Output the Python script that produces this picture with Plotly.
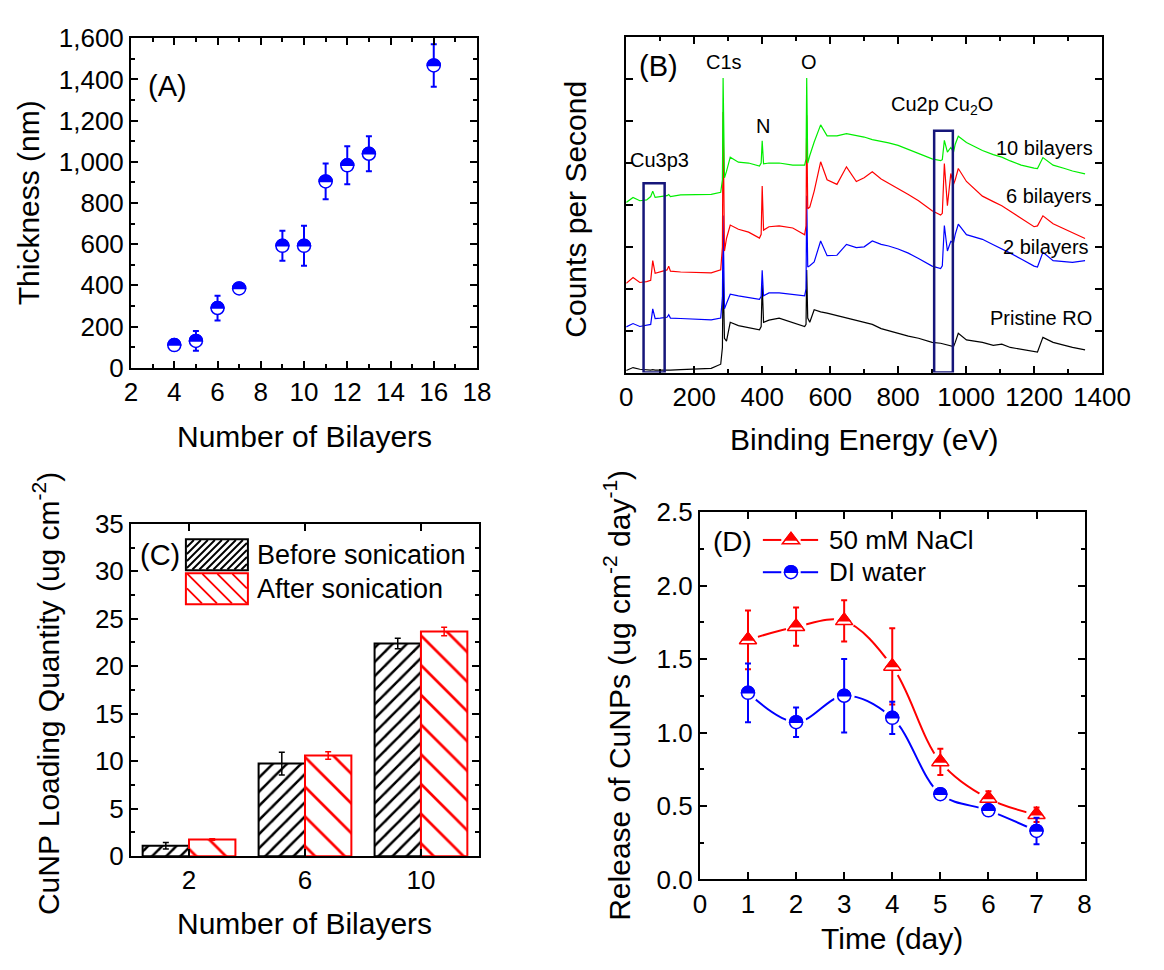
import plotly.graph_objects as go

W, H = 1164, 970
FONT = "Liberation Sans, Arial, sans-serif"

# ---------------- data ----------------
# (A) film thickness
bilayers_a = [4, 5, 6, 7, 9, 10, 11, 12, 13, 16]
thickness = [110, 130, 290, 385, 592, 592, 905, 983, 1039, 1468]
thickness_err = [25, 48, 60, 20, 73, 97, 87, 92, 85, 103]

# (B) XPS survey spectra (intensity in arbitrary units)
energy = [0, 20, 40, 60, 72, 78, 85, 100, 120, 125, 130, 160, 200, 250, 278, 283, 285, 289, 295, 306,
          330, 360, 392, 397, 400, 404, 420, 450, 490, 525, 529, 531, 534, 540, 553, 572, 591, 620, 648, 677,
          700, 724, 750, 772, 800, 830, 860, 900, 925, 930, 936, 945, 955, 963, 968, 977, 1001, 1048, 1080, 1105,
          1130, 1162, 1200, 1210, 1226, 1256, 1290, 1313, 1350]
cps_pristine = [0.05, 0.12, 0.08, 0.06, 0.06, 0.07, 0.06, 0.06, 0.05, 0.06,
                0.06, 0.07, 0.08, 0.10, 0.20, 0.60, 2.44, 0.82, 0.75, 1.20,
                1.12, 1.08, 1.02, 1.10, 2.10, 1.20, 1.25, 1.30, 1.20, 1.10,
                1.15, 2.45, 1.30, 1.20, 1.50, 1.45, 1.42, 1.36, 1.30, 1.25,
                1.20, 1.15, 1.05, 1.00, 0.95, 0.87, 0.82, 0.72, 0.70, 0.69,
                0.68, 0.66, 0.64, 0.62, 0.72, 0.94, 0.78, 0.72, 0.65, 0.68,
                0.60, 0.56, 0.50, 0.49, 0.84, 0.72, 0.65, 0.60, 0.54]
cps_2bl = [1.09, 1.17, 1.10, 1.13, 1.15, 1.52, 1.29, 1.30, 1.32, 1.38,
           1.30, 1.29, 1.27, 1.26, 1.30, 1.80, 3.75, 1.52, 1.65, 1.87,
           1.83, 1.80, 1.75, 1.82, 2.44, 1.83, 1.90, 1.90, 1.87, 1.83,
           2.00, 4.22, 2.52, 2.55, 2.64, 3.14, 2.79, 2.80, 3.06, 2.98,
           3.00, 3.14, 3.06, 3.02, 2.95, 2.85, 2.72, 2.54, 2.48, 2.55,
           3.51, 2.90, 3.13, 3.10, 3.30, 3.54, 3.29, 3.18, 3.05, 2.94,
           2.85, 2.71, 2.54, 2.52, 2.87, 2.67, 2.65, 2.63, 2.67]
cps_6bl = [2.13, 2.27, 2.15, 2.17, 2.20, 2.67, 2.37, 2.40, 2.45, 2.54,
           2.42, 2.40, 2.39, 2.38, 2.45, 3.00, 6.22, 2.90, 3.20, 3.52,
           3.42, 3.35, 3.21, 3.30, 4.45, 3.40, 3.48, 3.50, 3.45, 3.29,
           3.50, 6.14, 3.91, 3.95, 4.33, 5.03, 4.60, 4.49, 4.91, 4.56,
           4.65, 4.79, 4.62, 4.52, 4.40, 4.25, 4.10, 3.86, 3.76, 3.80,
           4.99, 3.98, 4.75, 4.49, 4.60, 4.87, 4.56, 4.21, 4.08, 3.98,
           3.85, 3.68, 3.48, 3.50, 3.74, 3.55, 3.42, 3.33, 3.20]
cps_10bl = [4.06, 4.18, 4.10, 4.12, 4.20, 4.33, 4.18, 4.20, 4.22, 4.25,
            4.20, 4.24, 4.25, 4.25, 4.30, 4.60, 7.03, 4.65, 4.80, 5.14,
            5.02, 5.00, 4.93, 5.00, 5.53, 4.98, 5.00, 5.00, 4.95, 4.95,
            5.10, 7.03, 5.00, 5.18, 5.50, 5.91, 5.65, 5.65, 5.70, 5.66,
            5.62, 5.56, 5.52, 5.48, 5.42, 5.32, 5.22, 5.10, 5.06, 5.08,
            5.54, 5.26, 5.37, 5.26, 5.45, 5.64, 5.49, 5.30, 5.20, 5.14,
            5.05, 4.95, 4.88, 4.87, 5.13, 4.95, 4.87, 4.81, 4.74]
cu3p3_window = [51, 113, 4.52]     # eV from, eV to, box top
cu2p_window = [906, 961, 5.77]

# (C) CuNP loading
bar_groups = [2, 6, 10]
loading_before = [1.1, 9.75, 22.4]
loading_before_err = [0.35, 1.2, 0.55]
loading_after = [1.75, 10.6, 23.65]
loading_after_err = [0.08, 0.4, 0.45]

# (D) release of CuNPs
days = [1, 2, 3, 4, 5, 6, 7]
release_nacl = [1.63, 1.72, 1.76, 1.45, 0.80, 0.55, 0.44]
release_nacl_err = [0.20, 0.13, 0.14, 0.26, 0.09, 0.05, 0.05]
release_di = [1.27, 1.07, 1.25, 1.10, 0.58, 0.47, 0.33]
release_di_err = [0.20, 0.10, 0.25, 0.11, 0.03, 0.03, 0.09]

# ---------------- helpers ----------------
def px(x):
    return x / W


def py(y):
    return 1 - y / H


BLUE = "#0000ff"
RED = "#ff0000"
GREEN = "#00ee00"
NAVY = "#16167a"

R_CIRC = 6.5
TRI_SIZE = 15


def half_circle_path(r):
    k = 0.5523 * r
    return (f"M{-r},0 C{-r},{k:.3f} {-k:.3f},{r} 0,{r} "
            f"C{k:.3f},{r} {r},{k:.3f} {r},0 Z")


def half_triangle_path(size):
    r = size / 2
    rt = r * 2 / 3 ** 0.5
    hw = 2 * rt / 3
    return f"M{-hw:.3f},0 L{hw:.3f},0 L0,{r} Z"


def full_triangle_path(size):
    r = size / 2
    rt = r * 2 / 3 ** 0.5
    return f"M{-rt:.3f},{-r / 2} L{rt:.3f},{-r / 2} L0,{r} Z"


def hatch_path(w, h, d, forward=True):
    hw, hh = w / 2, h / 2
    segs = []
    c = -(hw + hh)
    while c <= hw + hh:
        lo = max(-hw, c - hh)
        hi = min(hw, c + hh)
        if hi - lo > 0.5:
            if forward:
                segs.append(f"M{lo:.2f},{lo - c:.2f} L{hi:.2f},{hi - c:.2f}")
            else:
                segs.append(f"M{lo:.2f},{c - lo:.2f} L{hi:.2f},{c - hi:.2f}")
        c += d
    return " ".join(segs)


axis_common = dict(
    showline=True, linecolor="black", linewidth=2, mirror="ticks",
    ticks="inside", ticklen=7, tickwidth=2, tickcolor="black",
    showgrid=False, zeroline=False,
    tickfont=dict(family=FONT, size=26, color="black"),
)


def minor(dt):
    return dict(dtick=dt, ticks="inside", ticklen=4, tickwidth=2,
                tickcolor="black", showgrid=False)


fig = go.Figure()
shapes = []
annotations = []

# ---------------- (A) ----------------
fig.add_trace(go.Scatter(
    x=bilayers_a, y=thickness, mode="markers", xaxis="x", yaxis="y",
    error_y=dict(type="data", array=thickness_err, color=BLUE, thickness=2, width=3),
    marker=dict(symbol="circle", size=2 * R_CIRC, color="white", line=dict(color=BLUE, width=1.5)),
))
for xv, yv in zip(bilayers_a, thickness):
    shapes.append(dict(type="path", xref="x", yref="y", xsizemode="pixel", ysizemode="pixel",
                       xanchor=xv, yanchor=yv, path=half_circle_path(R_CIRC),
                       fillcolor=BLUE, line=dict(color=BLUE, width=1.5), layer="above"))

# ---------------- (B) ----------------
for ys, col in [(cps_pristine, "black"), (cps_2bl, BLUE), (cps_6bl, RED), (cps_10bl, GREEN)]:
    fig.add_trace(go.Scatter(x=energy, y=ys, mode="lines", xaxis="x2", yaxis="y2",
                             line=dict(color=col, width=1.2)))
for x0, x1, top in [cu3p3_window, cu2p_window]:
    shapes.append(dict(type="rect", xref="x2", yref="y2", x0=x0, x1=x1, y0=0, y1=top,
                       line=dict(color=NAVY, width=2.5), fillcolor="rgba(0,0,0,0)", layer="above"))

# ---------------- (C) ----------------
fig.add_trace(go.Bar(
    x=bar_groups, y=loading_before, xaxis="x3", yaxis="y3", name="Before sonication",
    marker=dict(color="white", line=dict(color="black", width=2),
                pattern=dict(shape="/", size=10, solidity=0.25, fgcolor="black", bgcolor="white",
                             fgopacity=1, fillmode="replace")),
    error_y=dict(type="data", array=loading_before_err, color="black", thickness=1.5, width=3),
))
fig.add_trace(go.Bar(
    x=bar_groups, y=loading_after, xaxis="x3", yaxis="y3", name="After sonication",
    marker=dict(color="white", line=dict(color=RED, width=2),
                pattern=dict(shape="\\", size=21, solidity=0.13, fgcolor=RED, bgcolor="white",
                             fgopacity=1, fillmode="replace")),
    error_y=dict(type="data", array=loading_after_err, color=RED, thickness=1.5, width=3),
))

# legend of (C), drawn by hand
for yc, col, fwd, d, label in [(557, "black", True, 7, "Before sonication"),
                               (592, RED, False, 15, "After sonication")]:
    shapes.append(dict(type="rect", xref="paper", yref="paper", xsizemode="pixel", ysizemode="pixel",
                       xanchor=px(216.6), yanchor=py(yc), x0=-31, x1=31, y0=-15.5, y1=15.5,
                       fillcolor="white", line=dict(color=col, width=2), layer="above"))
    shapes.append(dict(type="path", xref="paper", yref="paper", xsizemode="pixel", ysizemode="pixel",
                       xanchor=px(216.6), yanchor=py(yc), path=hatch_path(60, 29.5, d, fwd),
                       line=dict(color=col, width=1.9), layer="above"))
    annotations.append(dict(text=label, x=px(256), y=py(yc), xref="paper", yref="paper",
                            xanchor="left", yanchor="middle", showarrow=False,
                            font=dict(family=FONT, size=27, color="black")))

# ---------------- (D) ----------------
fig.add_trace(go.Scatter(x=days, y=release_nacl, mode="lines", xaxis="x4", yaxis="y4",
                         line=dict(color=RED, width=2, shape="spline", smoothing=1)))
fig.add_trace(go.Scatter(x=days, y=release_di, mode="lines", xaxis="x4", yaxis="y4",
                         line=dict(color=BLUE, width=2, shape="spline", smoothing=1)))
for ys in [release_nacl, release_di]:
    fig.add_trace(go.Scatter(x=days, y=ys, mode="markers", xaxis="x4", yaxis="y4",
                             marker=dict(symbol="circle", size=21, color="white")))
fig.add_trace(go.Scatter(
    x=days, y=release_nacl, mode="markers", xaxis="x4", yaxis="y4",
    error_y=dict(type="data", array=release_nacl_err, color=RED, thickness=2, width=3),
    marker=dict(symbol="triangle-up", size=TRI_SIZE, color="white", line=dict(color=RED, width=1.5)),
))
fig.add_trace(go.Scatter(
    x=days, y=release_di, mode="markers", xaxis="x4", yaxis="y4",
    error_y=dict(type="data", array=release_di_err, color=BLUE, thickness=2, width=3),
    marker=dict(symbol="circle", size=2 * R_CIRC, color="white", line=dict(color=BLUE, width=1.5)),
))
for xv, yv in zip(days, release_nacl):
    shapes.append(dict(type="path", xref="x4", yref="y4", xsizemode="pixel", ysizemode="pixel",
                       xanchor=xv, yanchor=yv, path=half_triangle_path(TRI_SIZE),
                       fillcolor=RED, line=dict(color=RED, width=1.5), layer="above"))
for xv, yv in zip(days, release_di):
    shapes.append(dict(type="path", xref="x4", yref="y4", xsizemode="pixel", ysizemode="pixel",
                       xanchor=xv, yanchor=yv, path=half_circle_path(R_CIRC),
                       fillcolor=BLUE, line=dict(color=BLUE, width=1.5), layer="above"))

# legend of (D), drawn by hand
for yc, col, label, sym in [(541.7, RED, "50 mM NaCl", "tri"), (575, BLUE, "DI water", "circ")]:
    for a, b in [(780, 799), (819, 837)]:
        shapes.append(dict(type="line", xref="paper", yref="paper", x0=px(a), x1=px(b),
                           y0=py(yc), y1=py(yc), line=dict(color=col, width=2), layer="above"))
    common = dict(xref="paper", yref="paper", xsizemode="pixel", ysizemode="pixel",
                  xanchor=px(809), yanchor=py(yc), layer="above")
    if sym == "tri":
        shapes.append(dict(type="path", path=full_triangle_path(TRI_SIZE), fillcolor="white",
                           line=dict(color=col, width=1.5), **common))
        shapes.append(dict(type="path", path=half_triangle_path(TRI_SIZE), fillcolor=col,
                           line=dict(color=col, width=1.5), **common))
    else:
        shapes.append(dict(type="circle", x0=-R_CIRC, x1=R_CIRC, y0=-R_CIRC, y1=R_CIRC,
                           fillcolor="white", line=dict(color=col, width=1.5), **common))
        shapes.append(dict(type="path", path=half_circle_path(R_CIRC), fillcolor=col,
                           line=dict(color=col, width=1.5), **common))
    annotations.append(dict(text=label, x=px(846), y=py(yc), xref="paper", yref="paper",
                            xanchor="left", yanchor="middle", showarrow=False,
                            font=dict(family=FONT, size=26, color="black")))

# ---------------- text ----------------
def note(text, x, y, size, angle=0, anchor="center"):
    annotations.append(dict(text=text, x=px(x), y=py(y), xref="paper", yref="paper",
                            xanchor=anchor, yanchor="middle", showarrow=False, textangle=angle,
                            font=dict(family=FONT, size=size, color="black")))


TITLE = 30
note("Number of Bilayers", 306.5, 435, TITLE)
note("Thickness (nm)", 23, 194, TITLE, -90)
note("Binding Energy (eV)", 884.5, 438, TITLE)
note("Counts per Second", 587, 200, TITLE, -90)
note("Number of Bilayers", 307.5, 937, TITLE)
note("CuNP Loading Quantity (ug cm<sup>-2</sup>)", 41, 700, TITLE, -90)
note("Time (day)", 913.5, 953, TITLE)
note("Release of CuNPs (ug cm<sup>-2</sup> day<sup>-1</sup>)", 630, 702, TITLE, -90)

note("(A)", 165.5, 73, 29)
note("(B)", 672.5, 53, 29)
note("(C)", 158, 557, 29)
note("(D)", 748.5, 543, 28)

note("C1s", 740, 48, 20)
note("O", 828, 48, 20)
note("N", 780, 115, 20)
note("Cu3p3", 673, 150, 20)
note("Cu2p Cu<sub>2</sub>O", 965, 93, 20)
note("10 bilayers", 1123, 137, 20, anchor="right")
note("6 bilayers", 1122, 187, 20, anchor="right")
note("2 bilayers", 1119, 239, 20, anchor="right")
note("Pristine RO", 1122, 313, 20, anchor="right")

fig.update_layout(
    width=W, height=H, margin=dict(l=0, r=0, t=0, b=0),
    paper_bgcolor="white", plot_bgcolor="white",
    showlegend=False, hovermode=False,
    barmode="group", bargap=0.2, bargroupgap=0,
    font=dict(family=FONT, color="black"),
    xaxis=dict(domain=[px(128), px(485)], anchor="y", range=[2, 18], dtick=2, tick0=2,
               minor=minor(1), **axis_common),
    yaxis=dict(domain=[py(364), py(24)], anchor="x", range=[0, 1600], dtick=200,
               tickformat=",", minor=minor(100), **axis_common),
    xaxis2=dict(domain=[px(639), px(1130)], anchor="y2", range=[0, 1400], dtick=200,
                minor=minor(100), **axis_common),
    yaxis2=dict(domain=[py(369), py(23)], anchor="x2", range=[0, 8], dtick=1,
                showticklabels=False, **axis_common),
    xaxis3=dict(domain=[px(128), px(487)], anchor="y3", range=[0, 12], tickvals=bar_groups,
                **axis_common),
    yaxis3=dict(domain=[py(868), py(525)], anchor="x3", range=[0, 35], dtick=5,
                minor=minor(2.5), **axis_common),
    xaxis4=dict(domain=[px(715), px(1112)], anchor="y4", range=[0, 8], dtick=1,
                **axis_common),
    yaxis4=dict(domain=[py(892), py(513)], anchor="x4", range=[0, 2.5], dtick=0.5,
                tickformat=".1f", minor=minor(0.25), **axis_common),
    shapes=shapes,
    annotations=annotations,
)

fig.write_html("out.html")
